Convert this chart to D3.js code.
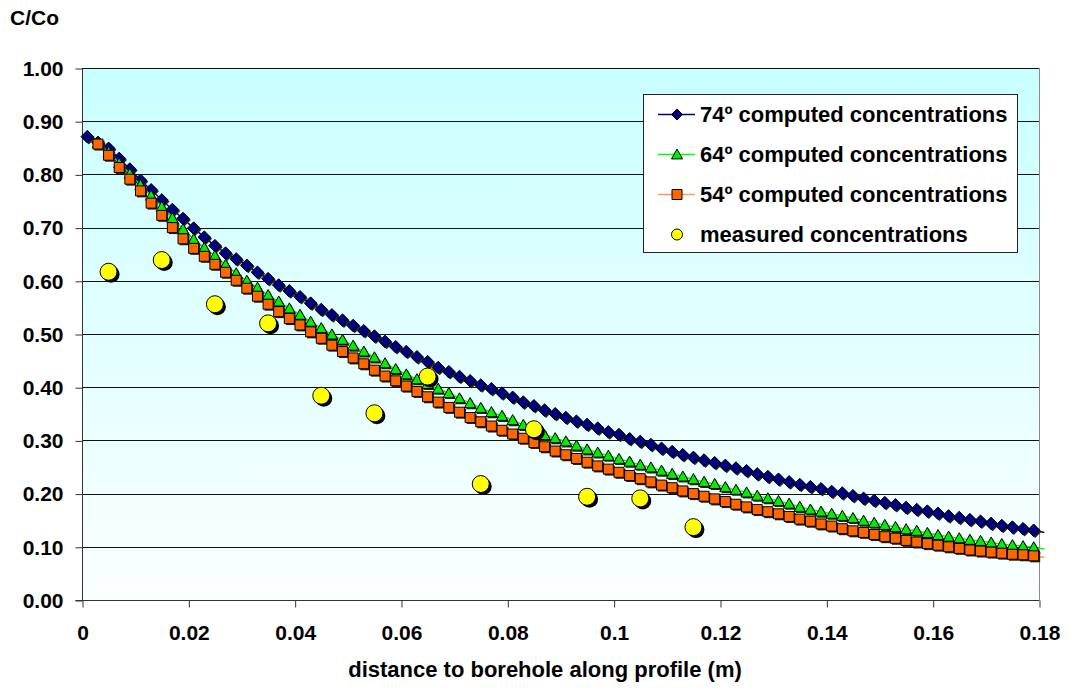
<!DOCTYPE html>
<html>
<head>
<meta charset="utf-8">
<script src="https://cdn.jsdelivr.net/npm/d3@7"></script>
<style>
  body { margin: 0; background: #fff; }
  svg text { font-family: Arial, "Liberation Sans", sans-serif; font-weight: bold; fill: #000; }
</style>
</head>
<body>
<div id="chart"></div>
<script>
// distances (m) of the computed profiles
var distance = [0.001, 0.003, 0.005, 0.007, 0.009, 0.011, 0.013, 0.015, 0.017, 0.019,
  0.021, 0.023, 0.025, 0.027, 0.029, 0.031, 0.033, 0.035, 0.037, 0.039,
  0.041, 0.043, 0.045, 0.047, 0.049, 0.051, 0.053, 0.055, 0.057, 0.059,
  0.061, 0.063, 0.065, 0.067, 0.069, 0.071, 0.073, 0.075, 0.077, 0.079,
  0.081, 0.083, 0.085, 0.087, 0.089, 0.091, 0.093, 0.095, 0.097, 0.099,
  0.101, 0.103, 0.105, 0.107, 0.109, 0.111, 0.113, 0.115, 0.117, 0.119,
  0.121, 0.123, 0.125, 0.127, 0.129, 0.131, 0.133, 0.135, 0.137, 0.139,
  0.141, 0.143, 0.145, 0.147, 0.149, 0.151, 0.153, 0.155, 0.157, 0.159,
  0.161, 0.163, 0.165, 0.167, 0.169, 0.171, 0.173, 0.175, 0.177, 0.179, 0.181]

var c74 = [0.871, 0.860, 0.849, 0.830, 0.810, 0.789, 0.771, 0.752, 0.734, 0.717,
  0.699, 0.682, 0.666, 0.652, 0.641, 0.629, 0.616, 0.604, 0.592, 0.581,
  0.570, 0.558, 0.546, 0.536, 0.526, 0.516, 0.506, 0.496, 0.486, 0.476,
  0.467, 0.457, 0.448, 0.437, 0.429, 0.420, 0.412, 0.404, 0.397, 0.389,
  0.381, 0.372, 0.365, 0.357, 0.350, 0.343, 0.336, 0.330, 0.323, 0.316,
  0.311, 0.303, 0.298, 0.292, 0.285, 0.279, 0.273, 0.268, 0.263, 0.258,
  0.253, 0.248, 0.243, 0.237, 0.232, 0.227, 0.222, 0.217, 0.213, 0.209,
  0.204, 0.201, 0.196, 0.191, 0.187, 0.183, 0.179, 0.174, 0.170, 0.167,
  0.163, 0.158, 0.155, 0.151, 0.148, 0.144, 0.140, 0.137, 0.134, 0.131, 0.127]

// 64 and 54 start at the second distance (0.003)
var c64 = [0.859, 0.842, 0.821, 0.801, 0.780, 0.760, 0.739, 0.718, 0.697,
  0.678, 0.662, 0.647, 0.630, 0.614, 0.600, 0.587, 0.573, 0.561, 0.548,
  0.536, 0.523, 0.511, 0.499, 0.489, 0.478, 0.467, 0.456, 0.445, 0.434,
  0.424, 0.415, 0.406, 0.397, 0.389, 0.379, 0.370, 0.361, 0.353, 0.346,
  0.338, 0.329, 0.319, 0.310, 0.304, 0.298, 0.290, 0.283, 0.277, 0.271,
  0.265, 0.260, 0.254, 0.249, 0.243, 0.237, 0.232, 0.227, 0.222, 0.218,
  0.212, 0.207, 0.202, 0.196, 0.191, 0.186, 0.181, 0.175, 0.170, 0.166,
  0.162, 0.158, 0.154, 0.149, 0.145, 0.141, 0.137, 0.133, 0.130, 0.126,
  0.122, 0.119, 0.116, 0.113, 0.111, 0.108, 0.105, 0.103, 0.101, 0.099, 0.096]

var c54 = [0.857, 0.836, 0.813, 0.791, 0.769, 0.746, 0.723, 0.700, 0.679,
  0.661, 0.646, 0.631, 0.616, 0.601, 0.586, 0.571, 0.556, 0.542, 0.529,
  0.517, 0.504, 0.492, 0.479, 0.467, 0.455, 0.444, 0.432, 0.421, 0.412,
  0.402, 0.392, 0.382, 0.372, 0.362, 0.353, 0.343, 0.335, 0.327, 0.319,
  0.312, 0.304, 0.296, 0.288, 0.280, 0.273, 0.266, 0.259, 0.252, 0.246,
  0.240, 0.234, 0.228, 0.222, 0.216, 0.211, 0.205, 0.200, 0.195, 0.190,
  0.185, 0.180, 0.175, 0.170, 0.166, 0.162, 0.157, 0.152, 0.148, 0.143,
  0.139, 0.134, 0.130, 0.127, 0.123, 0.119, 0.116, 0.112, 0.109, 0.106,
  0.103, 0.100, 0.097, 0.094, 0.092, 0.090, 0.088, 0.086, 0.085, 0.083, 0.080]

var measDist = [0.005, 0.015, 0.025, 0.035, 0.045, 0.055, 0.065, 0.075, 0.085, 0.095, 0.105, 0.115]
var measVal = [0.617, 0.639, 0.556, 0.520, 0.384, 0.351, 0.420, 0.218, 0.321, 0.194, 0.191, 0.137]

var xTicks = [0, 0.02, 0.04, 0.06, 0.08, 0.1, 0.12, 0.14, 0.16, 0.18]
var xTickLabels = ["0", "0.02", "0.04", "0.06", "0.08", "0.1", "0.12", "0.14", "0.16", "0.18"]
var yTicks = [0, 0.1, 0.2, 0.3, 0.4, 0.5, 0.6, 0.7, 0.8, 0.9, 1.0]

var legendNames = ["74º computed concentrations", "64º computed concentrations",
  "54º computed concentrations", "measured concentrations"]

var W = 1069, H = 689
var plotLeft = 82, plotRight = 1039, plotTop = 68, plotBottom = 600

var svg = d3.select("#chart").append("svg")
    .attr("width", W)
    .attr("height", H)

var x = d3.scaleLinear().domain([0, 0.18]).range([plotLeft, plotRight])
var y = d3.scaleLinear().domain([0, 1]).range([plotBottom, plotTop])

// background gradient
var grad = svg.append("defs").append("linearGradient")
    .attr("id", "bg")
    .attr("x1", 0).attr("y1", 0).attr("x2", 0).attr("y2", 1)
grad.append("stop").attr("offset", "0%").attr("stop-color", "#c9ffff")
grad.append("stop").attr("offset", "100%").attr("stop-color", "#fbffff")

svg.append("rect")
    .attr("x", plotLeft).attr("y", plotTop)
    .attr("width", plotRight - plotLeft).attr("height", plotBottom - plotTop)
    .style("fill", "url(#bg)")

// gridlines
svg.append("g").selectAll("line")
    .data(yTicks.slice(1))
    .enter().append("line")
    .attr("x1", plotLeft).attr("x2", plotRight)
    .attr("y1", function(d) { return Math.round(y(d)) + 0.5 })
    .attr("y2", function(d) { return Math.round(y(d)) + 0.5 })
    .style("stroke", "#111")
    .style("stroke-width", 1)

// right border
svg.append("line")
    .attr("x1", plotRight + 0.5).attr("x2", plotRight + 0.5)
    .attr("y1", plotTop).attr("y2", plotBottom)
    .style("stroke", "#8a8a8a")

// axes
var yAxis = d3.axisLeft(y)
    .tickValues(yTicks)
    .tickSize(7)
    .tickPadding(12)
    .tickFormat(d3.format(".2f"))
var gy = svg.append("g")
    .attr("transform", "translate(" + (plotLeft + 0.5) + ",0.5)")
    .call(yAxis)

var xAxis = d3.axisBottom(x)
    .tickValues(xTicks)
    .tickSize(7)
    .tickPadding(18)
    .tickFormat(function(d, i) { return xTickLabels[i] })
var gx = svg.append("g")
    .attr("transform", "translate(0.5," + (plotBottom + 0.5) + ")")
    .call(xAxis)

svg.selectAll(".domain").style("stroke", "#333")
svg.selectAll(".tick line").style("stroke", "#333")
svg.selectAll(".tick text").style("font-size", "21px").style("font-family", "Arial, 'Liberation Sans', sans-serif").style("font-weight", "bold")
gy.select(".domain").attr("d", "M0," + plotTop + "V" + plotBottom)
gx.select(".domain").attr("d", "M" + (plotLeft - 7) + ",0H" + plotRight)

// axis titles
svg.append("text")
    .attr("x", 10).attr("y", 25)
    .style("font-size", "21px")
    .text("C/Co")

svg.append("text")
    .attr("x", 545).attr("y", 677)
    .attr("text-anchor", "middle")
    .style("font-size", "22px")
    .text("distance to borehole along profile (m)")

// marker shapes
function diamond(r) { return "M0," + (-r) + "L" + r + ",0L0," + r + "L" + (-r) + ",0Z" }
function square(s) { return "M" + (-s) + "," + (-s) + "H" + s + "V" + s + "H" + (-s) + "Z" }
function triangle(s) { return "M0," + (-s) + "L" + s + "," + (s * 0.8) + "L" + (-s) + "," + (s * 0.8) + "Z" }

var series = [
  { xs: distance, ys: c74, line: "#000080", fill: "#000080", shape: diamond(6.3) },
  { xs: distance.slice(1), ys: c64, line: "#00ff00", fill: "#00ee00", shape: triangle(5.6) },
  { xs: distance.slice(1), ys: c54, line: "#ff9966", fill: "#ff6600", shape: square(5) }
]

var line = d3.line()
    .x(function(d) { return x(d[0]) })
    .y(function(d) { return y(d[1]) })

series.forEach(function(s) {
  var pts = s.xs.map(function(d, i) { return [d, s.ys[i]] })
  svg.append("path")
      .datum(pts)
      .attr("d", line)
      .style("fill", "none")
      .style("stroke", s.line)
      .style("stroke-width", 1.5)
  var shown = pts.filter(function(d) { return d[0] <= 0.18 })
  var g = svg.append("g")
  g.selectAll(".shadow")
      .data(shown)
      .enter().append("path")
      .attr("d", s.shape)
      .attr("transform", function(d) { return "translate(" + (x(d[0]) + 1.5) + "," + (y(d[1]) + 1.5) + ")" })
      .style("fill", "#222")
  g.selectAll(".mark")
      .data(shown)
      .enter().append("path")
      .attr("d", s.shape)
      .attr("transform", function(d) { return "translate(" + x(d[0]) + "," + y(d[1]) + ")" })
      .style("fill", s.fill)
      .style("stroke", "#000")
      .style("stroke-width", 1)
})

// measured concentrations
var meas = measDist.map(function(d, i) { return [d, measVal[i]] })
svg.append("g").selectAll("circle")
    .data(meas)
    .enter().append("circle")
    .attr("cx", function(d) { return x(d[0]) + 2.5 })
    .attr("cy", function(d) { return y(d[1]) + 2.5 })
    .attr("r", 8.5)
    .style("fill", "#000")
svg.append("g").selectAll("circle")
    .data(meas)
    .enter().append("circle")
    .attr("cx", function(d) { return x(d[0]) })
    .attr("cy", function(d) { return y(d[1]) })
    .attr("r", 8.5)
    .style("fill", "#ffff00")
    .style("stroke", "#000")
    .style("stroke-width", 1)

// legend
var lg = svg.append("g")
lg.append("rect")
    .attr("x", 643.5).attr("y", 94.5)
    .attr("width", 374).attr("height", 158)
    .style("fill", "#fff")
    .style("stroke", "#222")

var rowY = [114.5, 154.5, 194.5, 234.5]
var legendLine = ["#000080", "#00ff00", "#ff9966", null]
var legendFill = ["#000080", "#00ee00", "#ff6600", "#ffff00"]
var legendShape = [diamond(5.5), triangle(5.5), square(5), null]

legendNames.forEach(function(name, i) {
  if (legendLine[i]) {
    lg.append("line")
        .attr("x1", 658).attr("x2", 695)
        .attr("y1", rowY[i]).attr("y2", rowY[i])
        .style("stroke", legendLine[i])
        .style("stroke-width", 1.5)
    lg.append("path")
        .attr("d", legendShape[i])
        .attr("transform", "translate(677," + rowY[i] + ")")
        .style("fill", legendFill[i])
        .style("stroke", "#000")
  } else {
    lg.append("circle")
        .attr("cx", 677).attr("cy", rowY[i])
        .attr("r", 5.5)
        .style("fill", legendFill[i])
        .style("stroke", "#000")
  }
  lg.append("text")
      .attr("x", 700).attr("y", rowY[i])
      .attr("dy", "0.36em")
      .style("font-size", "22px")
      .text(name)
})
</script>
</body>
</html>
